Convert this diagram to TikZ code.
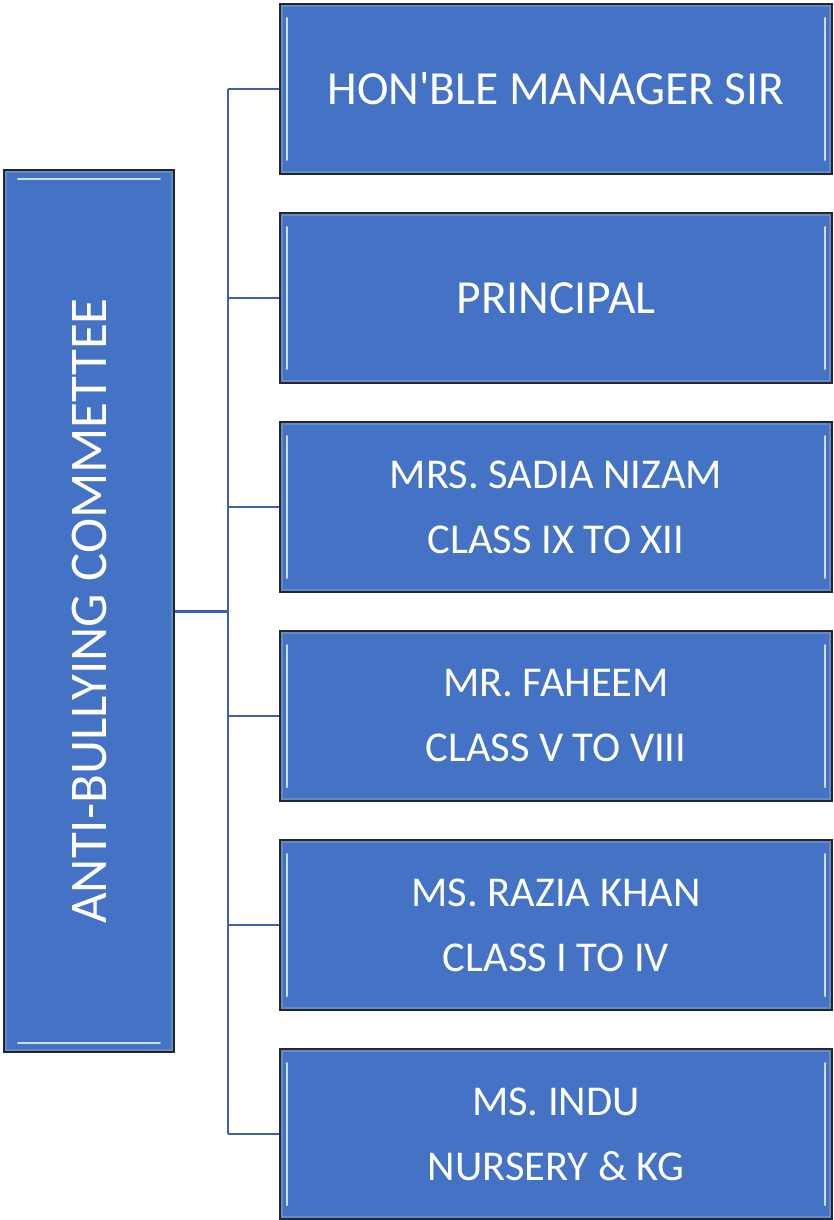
\documentclass[tikz,border=0pt]{standalone}
\usepackage{fontspec}
\setmainfont{Carlito}
\definecolor{boxblue}{HTML}{4472C4}
\definecolor{linkblue}{HTML}{3A62AA}
\definecolor{shine}{HTML}{C9E0FA}
\begin{document}
\begin{tikzpicture}[x=1pt,y=-1pt,
  panel/.style={draw=black!85,line width=1.6pt,fill=boxblue,text=white,
    align=center,inner sep=0pt},
  frame/.style={boxblue!65!white,line width=6pt,opacity=0.5},
  glint/.style={shine,line width=2pt,line cap=round},
  member/.style={panel,minimum width=552pt,minimum height=170pt,
    font=\fontsize{42.5}{65}\selectfont,
    path picture={
      \draw[frame] (path picture bounding box.north west) rectangle
        (path picture bounding box.south east);
      \draw[glint] ([shift={(7pt,-14pt)}]path picture bounding box.north west) --
        ([shift={(7pt,14pt)}]path picture bounding box.south west);
      \draw[glint] ([shift={(-7pt,-14pt)}]path picture bounding box.north east) --
        ([shift={(-7pt,14pt)}]path picture bounding box.south east);}},
  head/.style={panel,minimum width=170pt,minimum height=882pt,
    path picture={
      \draw[frame] (path picture bounding box.north west) rectangle
        (path picture bounding box.south east);
      \draw[glint] ([shift={(14pt,-9pt)}]path picture bounding box.north west) --
        ([shift={(-14pt,-9pt)}]path picture bounding box.north east);
      \draw[glint] ([shift={(14pt,9pt)}]path picture bounding box.south west) --
        ([shift={(-14pt,9pt)}]path picture bounding box.south east);}},
  branch/.style={draw=linkblue,line width=1.8pt}]
  \useasboundingbox (0,0) rectangle (833,1220);

  %Committee
  \node[head] (Committee) at (89,611)
    {\rotatebox{90}{\fontsize{53}{60}\selectfont ANTI-BULLYING COMMETTEE}};

  %Members
  \node[member,font=\fontsize{47.5}{60}\selectfont] (Manager) at (556,89) {HON\textquotesingle BLE MANAGER SIR};
  \node[member,font=\fontsize{47.5}{60}\selectfont] (Principal) at (556,298) {PRINCIPAL};
  \node[member] (Nizam) at (556,507) {MRS. SADIA NIZAM\\CLASS IX TO XII};
  \node[member] (Faheem) at (556,716) {MR. FAHEEM\\CLASS V TO VIII};
  \node[member] (Khan) at (556,925) {MS. RAZIA KHAN\\CLASS I TO IV};
  \node[member] (Indu) at (556,1134) {MS. INDU\\NURSERY \& KG};

  %Links
  \coordinate (Trunk) at (228,611);
  \draw[branch,line width=3pt] (Committee.east) -- (Trunk);
  \draw[branch] (Trunk |- Manager.west) -- (Trunk |- Indu.west);
  \foreach \n in {Manager,Principal,Nizam,Faheem,Khan,Indu}
    \draw[branch] (Trunk |- \n.west) -- (\n.west);
\end{tikzpicture}
\end{document}
